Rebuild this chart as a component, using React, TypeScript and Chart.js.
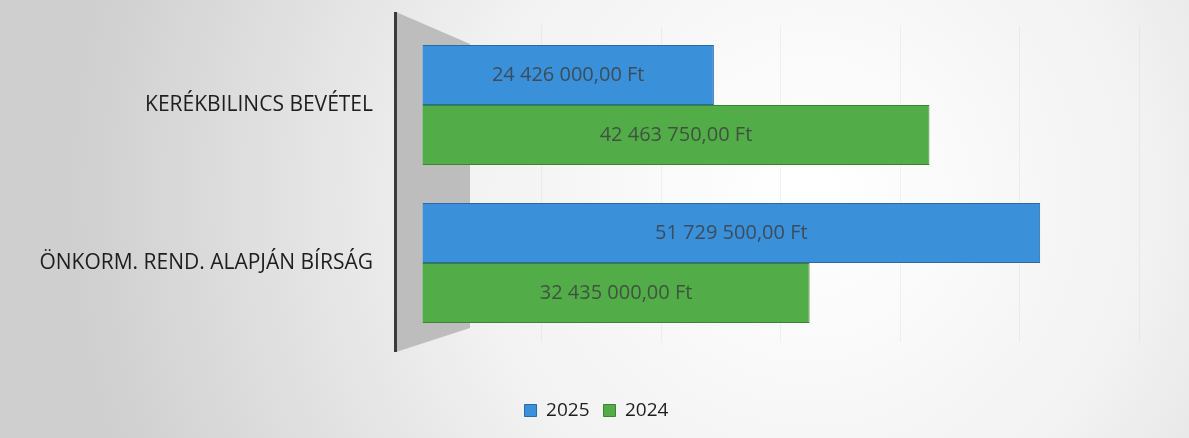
import React, { useEffect, useRef } from "react";
import { Chart, registerables } from "chart.js";

Chart.register(...registerables);

const categories = ["KERÉKBILINCS BEVÉTEL", "ÖNKORM. REND. ALAPJÁN BÍRSÁG"];
const seriesNames = ["2025", "2024"];
const values2025 = [24426000, 51729500];
const values2024 = [42463750, 32435000];
const xMax = 60000000;

const fmt = (v: number) => {
  const s = Math.round(v).toString().replace(/\B(?=(\d{3})+(?!\d))/g, " ");
  return s + ",00 Ft";
};

const bgPlugin = {
  id: "bgPlugin",
  afterLayout(chart: any) {
    const lg = chart.legend;
    if (lg) {
      lg.left += 27;
      lg.right += 27;
    }
  },
  beforeDraw(chart: any) {
    const { ctx, width, height, chartArea } = chart;
    ctx.save();
    const g = ctx.createRadialGradient(width * 0.68, height * 0.45, 20, width * 0.68, height * 0.45, width * 0.62);
    g.addColorStop(0, "#ffffff");
    g.addColorStop(0.45, "#f2f2f2");
    g.addColorStop(1, "#cfcfcf");
    ctx.fillStyle = g;
    ctx.fillRect(0, 0, width, height);
    // 3D wall
    const l = chartArea.left;
    const t = chartArea.top;
    const b = chartArea.bottom;
    ctx.beginPath();
    ctx.moveTo(l - 26, t - 14);
    ctx.lineTo(l + 48, t + 18);
    ctx.lineTo(l + 48, b - 14);
    ctx.lineTo(l - 26, b + 10);
    ctx.closePath();
    ctx.fillStyle = "#bdbdbd";
    ctx.fill();
    ctx.fillStyle = "#3a3a3a";
    ctx.fillRect(l - 28, t - 14, 3, b - t + 24);
    ctx.restore();
  },
};

const labelPlugin = {
  id: "labelPlugin",
  afterDatasetsDraw(chart: any) {
    const { ctx } = chart;
    ctx.save();
    ctx.font = '20px "Open Sans", sans-serif';
    ctx.fillStyle = "rgba(60,60,60,0.8)";
    ctx.textAlign = "center";
    ctx.textBaseline = "middle";
    chart.data.datasets.forEach((ds: any, di: number) => {
      const meta = chart.getDatasetMeta(di);
      meta.data.forEach((bar: any, i: number) => {
        const x = (bar.base + bar.x) / 2;
        ctx.fillText(fmt(ds.data[i]), x, bar.y);
      });
    });
    ctx.restore();
  },
};

export default function App() {
  const ref = useRef<HTMLCanvasElement | null>(null);
  useEffect(() => {
    if (!ref.current) return;
    const chart = new Chart(ref.current, {
      type: "bar",
      data: {
        labels: categories,
        datasets: [
          {
            label: seriesNames[0],
            data: values2025,
            backgroundColor: "#3a90d9",
            borderColor: "#2869a6",
            borderWidth: 1,
            barPercentage: 1,
            categoryPercentage: 0.76,
          },
          {
            label: seriesNames[1],
            data: values2024,
            backgroundColor: "#52ad49",
            borderColor: "#3a8434",
            borderWidth: 1,
            barPercentage: 1,
            categoryPercentage: 0.76,
          },
        ],
      },
      options: {
        indexAxis: "y",
        animation: false,
        responsive: false,
        maintainAspectRatio: false,
        layout: { padding: { top: 26, right: 50, bottom: 8, left: 0 } },
        scales: {
          x: {
            min: 0,
            max: xMax,
            ticks: { display: false, stepSize: 10000000 },
            grid: { color: "rgba(190,190,190,0.18)", drawTicks: false },
            border: { display: false },
            afterFit(scale: any) {
              scale.height = 45;
              scale.paddingLeft = 0;
              scale.paddingRight = 0;
            },
          },
          y: {
            grid: { display: false },
            border: { display: false },
            ticks: {
              color: "#1e1e1e",
              font: { family: '"Open Sans", sans-serif', size: 21 },
              padding: 41,
            },
            afterFit(scale: any) {
              scale.width = 422;
              scale.paddingTop = 0;
              scale.paddingBottom = 0;
            },
          },
        },
        plugins: {
          legend: {
            position: "bottom",
            labels: {
              boxWidth: 12,
              boxHeight: 12,
              padding: 14,
              color: "#1e1e1e",
              font: { family: '"Open Sans", sans-serif', size: 19 },
            },
          },
          tooltip: { enabled: false },
        },
      },
      plugins: [bgPlugin, labelPlugin],
    });
    return () => chart.destroy();
  }, []);
  return (
    <div style={{ position: "fixed", left: 0, top: 0, width: 1189, height: 438 }}>
      <canvas ref={ref} width={1189} height={438} style={{ display: "block" }} />
    </div>
  );
}
